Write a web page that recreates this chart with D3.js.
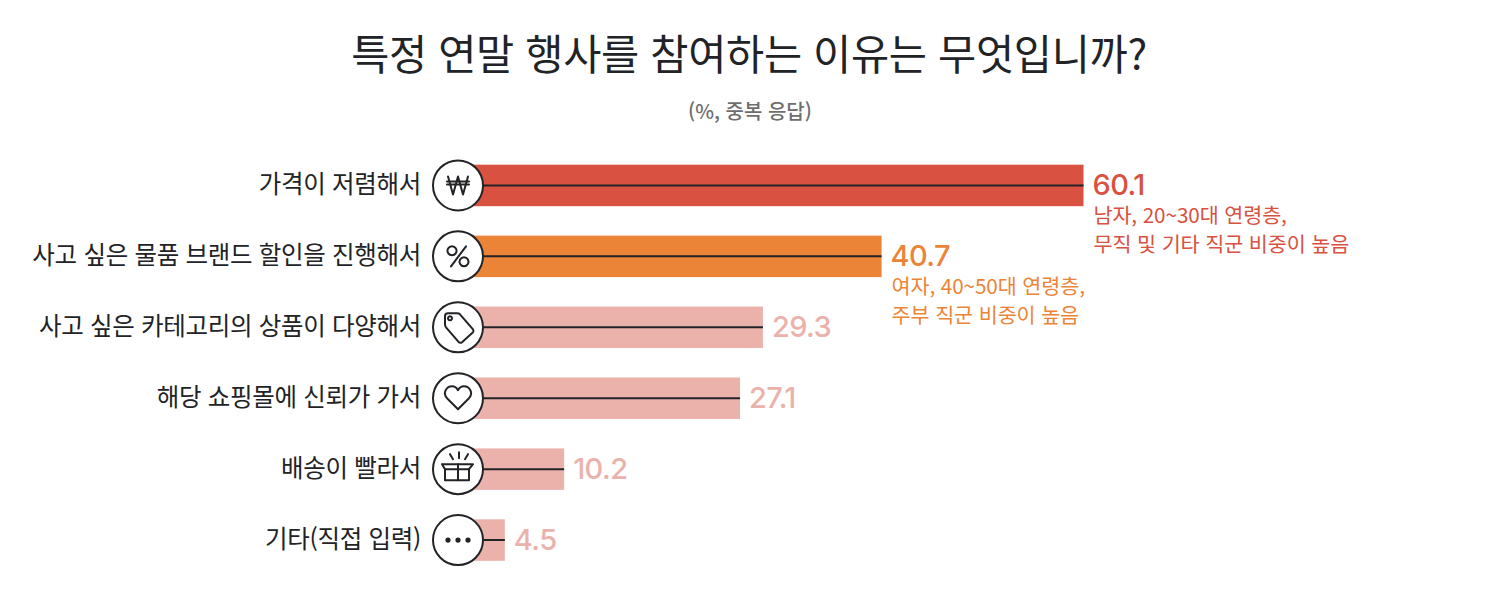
<!DOCTYPE html>
<html lang="ko">
<head>
<meta charset="utf-8">
<script src="https://cdn.jsdelivr.net/npm/d3@7"></script>
<style>
  html, body { margin: 0; padding: 0; background: #fff; }
  text { font-family: "Noto Sans CJK KR", "Noto Sans", sans-serif; }
  text.value { font-family: Inter, "Noto Sans", sans-serif; }
</style>
</head>
<body>
<div id="chart"></div>
<script>
// chart data
var categories = ["가격이 저렴해서", "사고 싶은 물품 브랜드 할인을 진행해서", "사고 싶은 카테고리의 상품이 다양해서", "해당 쇼핑몰에 신뢰가 가서", "배송이 빨라서", "기타(직접 입력)"];
var values = [60.1, 40.7, 29.3, 27.1, 10.2, 4.5];
var colors = ["#d95140", "#ec8438", "#ebb2ac", "#ebb2ac", "#ebb2ac", "#ebb2ac"];
var notes = [["남자, 20~30대 연령층,", "무직 및 기타 직군 비중이 높음"], ["여자, 40~50대 연령층,", "주부 직군 비중이 높음"], [], [], [], []];
var icons = ["won", "percent", "tag", "heart", "box", "dots"];

var width = 1500, height = 590, ink = "#222326";

var svg = d3.select("#chart").append("svg")
    .attr("width", width)
    .attr("height", height)
    .style("display", "block");

svg.append("text")
    .attr("x", 749).attr("y", 70)
    .attr("text-anchor", "middle")
    .attr("font-size", 41.5)
    .attr("letter-spacing", -0.3)
    .attr("fill", ink)
    .text("특정 연말 행사를 참여하는 이유는 무엇입니까?");

svg.append("text")
    .attr("x", 750).attr("y", 119)
    .attr("text-anchor", "middle")
    .attr("font-size", 20)
    .attr("font-weight", 500)
    .attr("fill", "#6e6e6e")
    .text("(%, 중복 응답)");

// scales
var x = d3.scaleLinear().domain([0, 60.1]).range([458, 1083.5]);
var y = d3.scaleBand().domain(categories).range([150.5, 575]).paddingInner(0.415).paddingOuter(0.2);

var rows = svg.selectAll("g.row")
    .data(categories)
    .enter().append("g")
    .attr("class", "row")
    .attr("transform", function(d) { return "translate(0," + (y(d) + y.bandwidth() / 2) + ")"; });

rows.append("rect")
    .attr("x", x(0))
    .attr("y", -y.bandwidth() / 2)
    .attr("width", function(d, i) { return x(values[i]) - x(0); })
    .attr("height", y.bandwidth())
    .attr("fill", function(d, i) { return colors[i]; });

rows.append("line")
    .attr("x1", x(0))
    .attr("x2", function(d, i) { return x(values[i]); })
    .attr("stroke", ink)
    .attr("stroke-width", 2);

rows.append("circle")
    .attr("cx", x(0))
    .attr("r", 25)
    .attr("fill", "#fff")
    .attr("stroke", ink)
    .attr("stroke-width", 2);

rows.append("text")
    .attr("x", 421)
    .attr("y", 8)
    .attr("text-anchor", "end")
    .attr("font-size", 24.5)
    .attr("letter-spacing", -0.3)
    .attr("fill", ink)
    .text(function(d) { return d; });

rows.append("text")
    .attr("class", "value")
    .attr("x", function(d, i) { return x(values[i]) + 9; })
    .attr("y", 10)
    .attr("font-size", 29)
    .attr("font-weight", 500)
    .attr("letter-spacing", -0.6)
    .attr("fill", function(d, i) { return colors[i]; })
    .text(function(d, i) { return values[i].toFixed(1); });

// notes under the two highlighted values
rows.each(function(d, i) {
    d3.select(this).selectAll("text.note")
        .data(notes[i])
        .enter().append("text")
        .attr("class", "note")
        .attr("x", x(values[i]) + 10)
        .attr("y", function(n, j) { return 38 + j * 29; })
        .attr("font-size", 20.7)
        .attr("letter-spacing", -0.1)
        .attr("fill", colors[i])
        .text(function(n) { return n; });
});

// icons, drawn around the circle centre
var iconG = rows.append("g")
    .attr("transform", "translate(" + x(0) + ",0)")
    .attr("fill", "none")
    .attr("stroke", ink)
    .attr("stroke-width", 2)
    .attr("stroke-linejoin", "round")
    .attr("stroke-linecap", "round");

var iconPaths = {
    won: ["M-10-9 L-5 9 L0-9 L5 9 L10-9", "M-11-4 H11", "M-11-1 H11"],
    percent: ["M8-10 L-7 10", "M-6-10 a4.5 4.5 0 1 0 .01 0 Z", "M6 1 a4.5 4.5 0 1 0 .01 0 Z"],
    tag: ["M-13-11 Q-13-14 -10-14 L-1-14 Q1-14 2-13 L15 2 Q16 4 15 5 L4 15 Q2 16 1 15 L-12 0 Q-13-1 -13-3 Z", "M-8-11 a2 2 0 1 0 .01 0 Z"],
    heart: ["M0 11 L-11 0 C-16-6 -11-12 -6-12 C-3-12 -1-10 0-8 C1-10 3-12 6-12 C11-12 16-6 11 0 Z"],
    box: ["M-13 0 V11 H11 V0", "M0-5 V11", "M-13 0 H11", "M-13 0 L-16-5 H15 L11 0", "M-8-15 L-5-10", "M1-17 V-11", "M10-15 L7-10"]
};

iconG.each(function(d, i) {
    var g = d3.select(this), name = icons[i];
    if (name == "dots") {
        g.selectAll("circle").data([-10, 0, 10]).enter().append("circle")
            .attr("cx", function(c) { return c; })
            .attr("r", 2.6)
            .attr("fill", ink)
            .attr("stroke", "none");
    } else {
        g.selectAll("path").data(iconPaths[name]).enter().append("path")
            .attr("d", function(p) { return p; });
    }
});
</script>
</body>
</html>
